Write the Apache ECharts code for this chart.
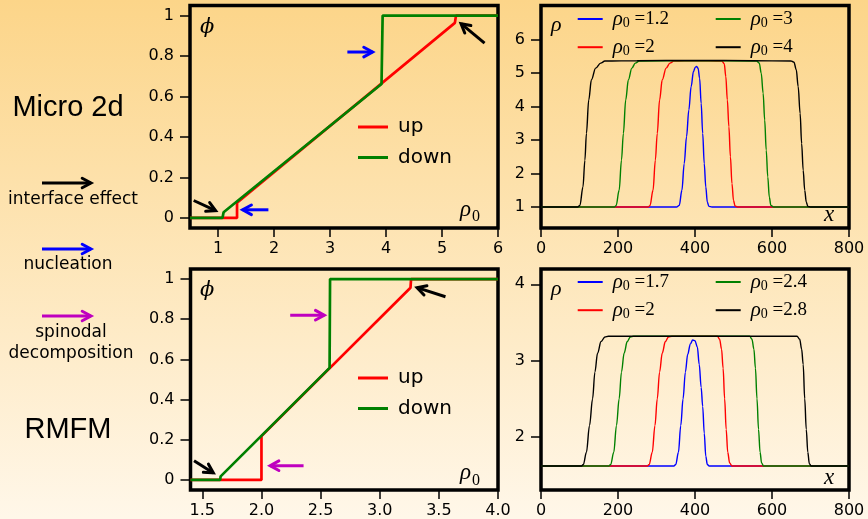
<!DOCTYPE html>
<html><head><meta charset="utf-8">
<script src="https://cdn.jsdelivr.net/npm/echarts@6/dist/echarts.min.js"></script>
<style>html,body{margin:0;padding:0;width:868px;height:519px;overflow:hidden;background:#fff}#c{width:868px;height:519px}</style>
</head><body><div id="c"></div><script>
// ---------- data ----------
// Micro 2d: phi vs rho0
const microUp   = [[0.5,0],[1.34,0],[1.34,0.075],[5.23,0.964],[5.25,1],[6,1]];
const microDown = [[0.5,0],[1.08,0],[1.1,0.028],[3.92,0.662],[3.94,1],[6,1]];
// RMFM: phi vs rho0
const rmfmUp   = [[1.4,0],[2.0,0],[2.0,0.218],[3.26,0.957],[3.265,1],[4.0,1]];
const rmfmDown = [[1.4,0],[1.65,0],[1.655,0.018],[2.576,0.558],[2.58,1],[4.0,1]];
// Micro 2d density profiles rho(x)
const micro12 = [[0,1],[352,1],[359,1.05],[366,1.5],[372,2.3],[378,3.1],[384,3.9],[390,4.6],[396,5.05],[401,5.18],[404,5.2],[408,5.15],[412,4.85],[416,4.1],[420,3.2],[424,2.3],[428,1.6],[432,1.15],[436,1.02],[444,1],[800,1]];
const micro2  = [[0,1],[278,1],[283,1.04],[291,1.5],[297,2.4],[302,3.2],[308,4.2],[315,4.8],[325,5.15],[335,5.3],[345,5.36],[400,5.37],[470,5.36],[476,5.28],[480,4.9],[484,4.2],[488,3.4],[492,2.5],[496,1.7],[500,1.2],[504,1.03],[512,1],[800,1]];
const micro3  = [[0,1],[190,1],[195,1.04],[203,1.5],[209,2.4],[214,3.2],[220,4.2],[227,4.8],[236,5.15],[245,5.3],[255,5.36],[400,5.37],[560,5.36],[567,5.3],[572,5.0],[577,4.4],[581,3.6],[585,2.7],[589,1.9],[593,1.3],[597,1.05],[605,1],[800,1]];
const micro4  = [[0,1],[95,1],[101,1.05],[109,1.6],[114,2.4],[118,3.2],[124,4.2],[131,4.8],[142,5.15],[155,5.3],[166,5.36],[250,5.37],[400,5.38],[550,5.37],[650,5.36],[657,5.33],[663,5.1],[668,4.6],[673,3.8],[677,2.9],[681,2.1],[685,1.5],[689,1.15],[693,1.02],[700,1],[800,1]];
// RMFM density profiles rho(x)
const rmfm17 = [[0,1.62],[345,1.62],[350,1.64],[357,1.8],[363,2.15],[369,2.5],[375,2.85],[381,3.08],[388,3.22],[394,3.27],[400,3.26],[406,3.18],[411,2.95],[416,2.65],[420,2.4],[424,2.05],[428,1.75],[432,1.64],[437,1.62],[800,1.62]];
const rmfm2  = [[0,1.62],[276,1.62],[281,1.64],[289,1.8],[296,2.15],[302,2.5],[308,2.85],[315,3.1],[323,3.25],[331,3.31],[340,3.32],[458,3.32],[464,3.28],[469,3.15],[473,2.9],[477,2.5],[481,2.1],[485,1.8],[490,1.66],[496,1.62],[800,1.62]];
const rmfm24 = [[0,1.62],[176,1.62],[181,1.64],[189,1.8],[196,2.15],[203,2.5],[209,2.85],[216,3.1],[224,3.25],[232,3.31],[240,3.32],[542,3.32],[548,3.28],[553,3.15],[557,2.9],[561,2.5],[565,2.1],[569,1.8],[573,1.66],[578,1.62],[800,1.62]];
const rmfm28 = [[0,1.62],[105,1.62],[110,1.64],[118,1.8],[126,2.15],[134,2.5],[140,2.85],[147,3.1],[156,3.25],[166,3.31],[175,3.32],[665,3.32],[672,3.28],[677,3.15],[681,2.95],[685,2.5],[689,2.1],[693,1.8],[697,1.65],[702,1.62],[800,1.62]];
// tick labels
const phiTicks   = [0, 0.2, 0.4, 0.6, 0.8, 1];
const microRhoTicks = [1, 2, 3, 4, 5, 6];
const rmfmRhoTicks  = [1.5, 2.0, 2.5, 3.0, 3.5, 4.0];
const xTicks = [0, 200, 400, 600, 800];
const microProfTicks = [1, 2, 3, 4, 5, 6];
const rmfmProfTicks  = [2, 3, 4];
// annotation arrows [x1,y1,x2,y2,color] in data coords
const microArrows = [[0.566,0.086,0.958,0.036,'#000'],[1.90,0.04,1.44,0.04,'#0000ff'],[3.31,0.82,3.76,0.82,'#0000ff'],[5.76,0.864,5.34,0.96,'#000']];
const rmfmArrows  = [[1.43,0.096,1.593,0.035,'#000'],[2.356,0.071,2.073,0.071,'#bf00bf'],[2.243,0.82,2.531,0.82,'#bf00bf'],[3.556,0.912,3.316,0.957,'#000']];

// ---------- chart ----------
const chart = echarts.init(document.getElementById('c'), null, {renderer:'canvas'});
const SANS = 'DejaVu Sans', SERIF = 'Liberation Serif';
const RED='#ff0000', GREEN='#008000', BLUE='#0000ff', BLACK='#000000';

function xa(g, min, max, ticks, fmt){
  return {type:'value', gridIndex:g, min:min, max:max,
    axisLine:{show:false, onZero:false}, splitLine:{show:false},
    axisTick:{show:true, length:9, customValues:ticks, lineStyle:{color:'#000', width:1.5}},
    axisLabel:{customValues:ticks, formatter:fmt, color:'#000', fontFamily:SANS, fontSize:16, margin:13}};
}
function ya(g, min, max, ticks, fmt){
  return {type:'value', gridIndex:g, min:min, max:max,
    axisLine:{show:false, onZero:false}, splitLine:{show:false},
    axisTick:{show:true, length:10, customValues:ticks, lineStyle:{color:'#000', width:1.5}},
    axisLabel:{customValues:ticks, formatter:fmt, color:'#000', fontFamily:SANS, fontSize:16, margin:16}};
}
const plain = v => String(v);
const fix1 = v => v.toFixed(1);

function phiSeries(name, data, color, g, z){
  return {type:'line', name:name, xAxisIndex:g, yAxisIndex:g, data:data, symbol:'none',
    lineStyle:{color:color, width:2.7}, itemStyle:{color:color}, z:z, animation:false};
}
function profSeries(name, data, color, g){
  return {type:'line', name:name, xAxisIndex:g, yAxisIndex:g, data:data, symbol:'none',
    smooth:0.35, smoothMonotone:'x',
    lineStyle:{color:color, width:1.4}, itemStyle:{color:color}, animation:false};
}
const gridBase = {show:true, borderColor:'#000', borderWidth:3.5, backgroundColor:'transparent', containLabel:false};

function profLegend(data, left, top){
  return {orient:'vertical', left:left, top:top, data:data, icon:'rect', itemWidth:25, itemHeight:2,
    itemGap:5.7, padding:0, selectedMode:false,
    formatter: n => '{s|}{r|ρ}{z|0}{e| =' + n.slice(1) + '}',
    textStyle:{lineHeight:22, rich:{
      s:{width:5},
      r:{fontFamily:SERIF, fontStyle:'italic', fontSize:21, color:'#000'},
      z:{fontFamily:SERIF, fontSize:14, color:'#000', padding:[9,0,0,0]},
      e:{fontFamily:SERIF, fontSize:19, color:'#000'}}}};
}
function udLegend(top){
  return {orient:'vertical', left:358, top:top, data:['up','down'], icon:'rect', itemWidth:30, itemHeight:3,
    itemGap:6.5, padding:0, selectedMode:false,
    formatter: n => '{s|}{t|' + n + '}',
    textStyle:{lineHeight:24, rich:{s:{width:5}, t:{fontFamily:SANS, fontSize:20, color:'#000'}}}};
}

function txt(text, x, y, font){
  return {type:'text', z:100, silent:true, style:{text:text, x:x, y:y, font:font, fill:'#000',
    textAlign:'left', textVerticalAlign:'middle'}};
}
const it = (s) => 'italic ' + s + 'px "' + SERIF + '"';
const phiFont = 'italic 21px "DejaVu Serif"';

function keyArrow(x1,y1,x2,y2,color){
  const ang = Math.atan2(y2-y1, x2-x1), L = 10, a = 0.5;
  const h1 = [x2 - L*Math.cos(ang-a), y2 - L*Math.sin(ang-a)];
  const h2 = [x2 - L*Math.cos(ang+a), y2 - L*Math.sin(ang+a)];
  return {type:'group', z:100, silent:true, children:[
    {type:'line', shape:{x1:x1,y1:y1,x2:x2,y2:y2}, style:{stroke:color, lineWidth:3, lineCap:'butt'}},
    {type:'polyline', shape:{points:[h1,[x2,y2],h2]}, style:{stroke:color, lineWidth:3, lineCap:'round', lineJoin:'miter', fill:null}}
  ]};
}

const staticGraphics = [
  {type:'text', z:100, silent:true, style:{text:'Micro 2d', x:68, y:108, font:'29px "Liberation Sans"', fill:'#000', textAlign:'center', textVerticalAlign:'middle'}},
  {type:'text', z:100, silent:true, style:{text:'RMFM', x:68, y:430, font:'29px "Liberation Sans"', fill:'#000', textAlign:'center', textVerticalAlign:'middle'}},
  {type:'text', z:100, silent:true, style:{text:'interface effect', x:73, y:200, font:'17px "DejaVu Sans"', fill:'#000', textAlign:'center', textVerticalAlign:'middle'}},
  {type:'text', z:100, silent:true, style:{text:'nucleation', x:68, y:265, font:'17px "DejaVu Sans"', fill:'#000', textAlign:'center', textVerticalAlign:'middle'}},
  {type:'text', z:100, silent:true, style:{text:'spinodal', x:71, y:333, font:'17px "DejaVu Sans"', fill:'#000', textAlign:'center', textVerticalAlign:'middle'}},
  {type:'text', z:100, silent:true, style:{text:'decomposition', x:71, y:354, font:'17px "DejaVu Sans"', fill:'#000', textAlign:'center', textVerticalAlign:'middle'}},
  keyArrow(42,183,91,183,'#000'),
  keyArrow(42,249,91,249,'#0000ff'),
  keyArrow(42,316,91,316,'#bf00bf'),
  // axis symbols
  txt('ϕ', 200, 28, phiFont),
  txt('ϕ', 200, 291, phiFont),
  txt('ρ', 460, 210, it(23)), txt('0', 472, 217, '16px "'+SERIF+'"'),
  txt('ρ', 460, 473, it(23)), txt('0', 472, 480.5, '16px "'+SERIF+'"'),
  txt('ρ', 551, 25.5, it(22)), txt('ρ', 551, 289.5, it(22)),
  txt('x', 824, 214.5, it(23)), txt('x', 824, 477.5, it(23))
];

const option = {
  animation:false,
  backgroundColor:{type:'linear', x:0, y:0, x2:0, y2:1, colorStops:[{offset:0,color:'#fcd589'},{offset:1,color:'#fff7e9'}]},
  grid:[
    Object.assign({left:190, top:5.5, width:308, height:222.5}, gridBase),
    Object.assign({left:541, top:5.5, width:308, height:222.5}, gridBase),
    Object.assign({left:190.5, top:269, width:307.5, height:221}, gridBase),
    Object.assign({left:541, top:269, width:308, height:221}, gridBase)
  ],
  xAxis:[
    xa(0, 0.5, 6, microRhoTicks, plain),
    xa(1, 0, 800, xTicks, plain),
    xa(2, 1.4, 4.0, rmfmRhoTicks, fix1),
    xa(3, 0, 800, xTicks, plain)
  ],
  yAxis:[
    ya(0, -0.05, 1.05, phiTicks, plain),
    ya(1, 0.374, 7.02, microProfTicks, plain),
    ya(2, -0.05, 1.05, phiTicks, plain),
    ya(3, 1.306, 4.2, rmfmProfTicks, plain)
  ],
  legend:[
    udLegend(115), udLegend(366),
    profLegend(['m1.2','m2'], 577.7, 8), profLegend(['m3','m4'], 715.7, 8),
    profLegend(['r1.7','r2'], 577.7, 271), profLegend(['r2.4','r2.8'], 715.7, 271)
  ],
  series:[
    phiSeries('up', microUp, RED, 0, 2), phiSeries('down', microDown, GREEN, 0, 3),
    phiSeries('up', rmfmUp, RED, 2, 2), phiSeries('down', rmfmDown, GREEN, 2, 3),
    profSeries('m1.2', micro12, BLUE, 1), profSeries('m2', micro2, RED, 1),
    profSeries('m3', micro3, GREEN, 1), profSeries('m4', micro4, BLACK, 1),
    profSeries('r1.7', rmfm17, BLUE, 3), profSeries('r2', rmfm2, RED, 3),
    profSeries('r2.4', rmfm24, GREEN, 3), profSeries('r2.8', rmfm28, BLACK, 3)
  ],
  graphic: staticGraphics
};
chart.setOption(option);

// panel arrows placed through the axes' scales
const dyn = [];
[[0, microArrows],[2, rmfmArrows]].forEach(([g, arr]) => {
  arr.forEach(a => {
    const p1 = chart.convertToPixel({xAxisIndex:g, yAxisIndex:g}, [a[0], a[1]]);
    const p2 = chart.convertToPixel({xAxisIndex:g, yAxisIndex:g}, [a[2], a[3]]);
    dyn.push(keyArrow(p1[0], p1[1], p2[0], p2[1], a[4]));
  });
});
chart.setOption({graphic: staticGraphics.concat(dyn)});
</script></body></html>
